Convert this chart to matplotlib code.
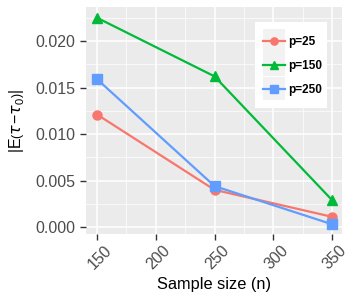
import numpy as np
import matplotlib
matplotlib.use("Agg")
from matplotlib import pyplot as plt
from matplotlib import transforms
from matplotlib.legend_handler import HandlerLine2D
from matplotlib.patches import Rectangle

sampleSizes = [150, 250, 350]
seriesNames = ["p=25", "p=150", "p=250"]
p25 = [0.0121, 0.0040, 0.0011]
p150 = [0.0225, 0.0162, 0.0029]
p250 = [0.0159, 0.0044, 0.0003]
xTicks = [150, 200, 250, 300, 350]
yTicks = [0.000, 0.005, 0.010, 0.015, 0.020]

colors = ["#F8766D", "#00BA38", "#619CFF"]
markers = ["o", "^", "s"]


class KeyHandler(HandlerLine2D):
    # grey key box behind each legend entry, ggplot style
    def create_artists(self, legend, orig_handle, xdescent, ydescent,
                       width, height, fontsize, trans):
        arts = super().create_artists(legend, orig_handle, xdescent, ydescent,
                                      width, height, fontsize, trans)
        boxH = 16.9
        box = Rectangle((-xdescent, height / 2 - boxH / 2 - ydescent),
                        width, boxH, facecolor="#F2F2F2", edgecolor="none",
                        transform=trans, zorder=0)
        return [box] + arts


plt.rcParams['font.family'] = ['Liberation Sans', 'DejaVu Sans']
plt.rcParams['mathtext.fontset'] = 'custom'
plt.rcParams['mathtext.rm'] = 'Liberation Sans'
plt.rcParams['mathtext.it'] = 'DejaVu Sans:italic'

fig = plt.figure(figsize=(3.5, 3.0), dpi=100)
ax = fig.add_axes([86 / 350, 66 / 300, 256 / 350, 227 / 300])
ax.set_facecolor("#EBEBEB")

for vals, col, mk, name in zip([p25, p150, p250], colors, markers, seriesNames):
    ax.plot(sampleSizes, vals, color=col, marker=mk, markersize=6.5,
            linewidth=1.6, label=name, zorder=3)

ax.set_xlim(140.6, 358.5)
ax.set_ylim(-0.00075, 0.02366)
ax.set_xticks(xTicks)
ax.set_yticks(yTicks)
ax.set_xticks([175, 225, 275, 325], minor=True)
ax.set_yticks([0.0025, 0.0075, 0.0125, 0.0175, 0.0225], minor=True)
ax.set_yticklabels(["%.3f" % v for v in yTicks])
ax.grid(which="major", color="white", linewidth=1.1)
ax.grid(which="minor", color="white", linewidth=0.5)
ax.set_axisbelow(True)
for s in ax.spines.values():
    s.set_visible(False)
ax.tick_params(axis="both", which="major", colors="#333333", labelcolor="#4D4D4D",
               labelsize=11.5, length=4, width=1)
ax.tick_params(axis="x", which="major", pad=2)
ax.tick_params(axis="both", which="minor", length=0)
shift = transforms.ScaledTranslation(0.03, 0, fig.dpi_scale_trans)
for lbl in ax.get_xticklabels():
    lbl.set_rotation(45)
    lbl.set_ha("center")
    lbl.set_va("top")
    lbl.set_transform(lbl.get_transform() + shift)

ax.set_xlabel("Sample size (n)", fontsize=11.8, color="black", labelpad=4)
ax.set_ylabel(r"$\left|\mathrm{E}\left(\tau\!-\!\tau_0\right)\right|$", fontsize=11.5,
              color="black", labelpad=7)

# white legend background panel
ax.add_patch(Rectangle((0.660, 0.555), 0.281, 0.379, transform=ax.transAxes,
                       facecolor="white", edgecolor="none", zorder=4))

leg = ax.legend(loc="upper left", bbox_to_anchor=(0.691, 0.872), frameon=False,
                fontsize=8.5, handlelength=1.86, borderpad=0, borderaxespad=0,
                labelspacing=1.0, handletextpad=0.3, markerscale=0.8,
                handler_map={plt.Line2D: KeyHandler()})
leg.set_zorder(5)
for t in leg.get_texts():
    t.set_fontweight("bold")
for h in leg.get_lines():
    h.set_linewidth(2.2)

plt.savefig("out.png", dpi=100)
